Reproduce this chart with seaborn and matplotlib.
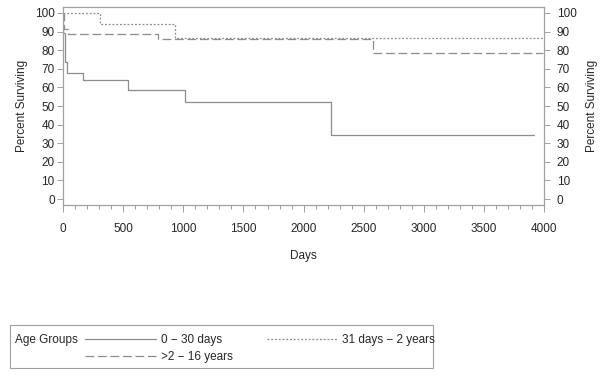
import numpy as np
import pandas as pd
import matplotlib
matplotlib.use("Agg")
import matplotlib.pyplot as plt
import seaborn as sns
from matplotlib.patches import Rectangle
from matplotlib.ticker import MultipleLocator

# step points of the Kaplan-Meier curves (days, percent surviving)
groups = ["0 \u2212 30 days", ">2 \u2212 16 years", "31 days \u2212 2 years"]
days_0_30 = [0, 3, 15, 36, 169, 540, 1015, 2226, 3917]
pct_0_30 = [100, 89, 73.7, 67.6, 64.0, 58.4, 52.0, 34.6, 34.6]
days_2_16 = [0, 5, 44, 790, 2578, 3990]
pct_2_16 = [100, 91.2, 88.7, 85.8, 78.7, 78.7]
days_31_2 = [0, 307, 931, 4000]
pct_31_2 = [100, 93.9, 86.3, 86.3]

df = pd.concat([
    pd.DataFrame({"Days": days_0_30, "pct": pct_0_30, "group": groups[0]}),
    pd.DataFrame({"Days": days_2_16, "pct": pct_2_16, "group": groups[1]}),
    pd.DataFrame({"Days": days_31_2, "pct": pct_31_2, "group": groups[2]}),
])

sns.set_style("white")
plt.rcParams["font.family"] = ["Liberation Sans Narrow", "Liberation Sans", "DejaVu Sans"]
plt.rcParams["font.size"] = 8.5

grey = "#8c8c8c"
frame = "#a0a0a0"

fig = plt.figure(figsize=(6, 3.8), dpi=100)
ax = fig.add_axes([0.105, 0.4605, 0.802, 0.5211])

sns.lineplot(data=df, x="Days", y="pct", hue="group", style="group",
             hue_order=groups, style_order=groups,
             palette=[grey, grey, grey],
             dashes={groups[0]: "", groups[1]: (7, 3), groups[2]: (1.5, 1.5)},
             drawstyle="steps-post", estimator=None, sort=False,
             linewidth=0.9, legend=False, ax=ax)

ax.set_xlim(0, 4000)
ax.set_ylim(-3.2, 103.2)
ax.set_xticks(np.arange(0, 4001, 500))
ax.xaxis.set_minor_locator(MultipleLocator(100))
ax.set_yticks(np.arange(0, 101, 10))
ax.set_xlabel("Days", labelpad=11)
ax.set_ylabel("Percent Surviving", labelpad=5)
ax.tick_params(axis="x", which="major", direction="out", length=5, width=0.7,
               color=frame, pad=8, bottom=True)
ax.tick_params(axis="x", which="minor", direction="out", length=3, width=0.7,
               color=frame, bottom=True)
ax.tick_params(axis="y", direction="out", length=4, width=0.7, color=frame,
               pad=2, left=True)
for s in ax.spines.values():
    s.set_color(frame)
    s.set_linewidth(0.8)

ax2 = ax.twinx()
ax2.set_ylim(ax.get_ylim())
ax2.set_yticks(np.arange(0, 101, 10))
ax2.set_ylabel("Percent Surviving", rotation=90, labelpad=7)
ax2.tick_params(axis="y", direction="out", length=4, width=0.7, color=frame,
                pad=5, right=True)
for s in ax2.spines.values():
    s.set_color(frame)
    s.set_linewidth(0.8)

# legend box
fig.patches.append(Rectangle((10 / 600, 1 - 368 / 380), 423 / 600, 43 / 380,
                             transform=fig.transFigure, fill=False,
                             edgecolor=frame, linewidth=0.8))
fig.text(15 / 600, 1 - 340 / 380, "Age Groups", va="center", ha="left")

handles = [plt.Line2D([], [], color=grey, lw=0.9, ls="-"),
           plt.Line2D([], [], color=grey, lw=0.9, ls=(0, (7, 3))),
           plt.Line2D([], [], color=grey, lw=0.9, ls=(0, (1.5, 1.5)))]
fig.legend(handles, groups, ncol=2, frameon=False,
           loc="upper left", bbox_to_anchor=(85 / 600, 1 - 334 / 380),
           handlelength=6.0, handletextpad=0.4, columnspacing=2.9,
           labelspacing=0.4, borderpad=0, borderaxespad=0)

fig.savefig("out.png", dpi=100)
